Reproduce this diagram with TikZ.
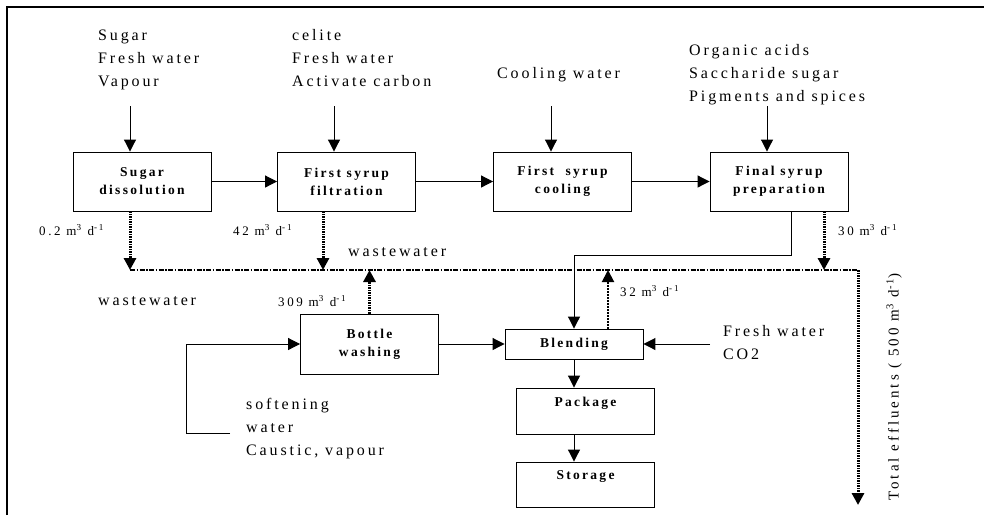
\documentclass[tikz,border=0pt]{standalone}
\usepackage{fontspec}
\setmainfont{Liberation Serif}
\usetikzlibrary{positioning, arrows.meta}

\begin{document}
\begin{tikzpicture}[x=1pt, y=-1pt,
    proc/.style={draw, line width=0.9pt, minimum width=138pt, minimum height=59pt, inner sep=0pt, align=center,
                 font=\fontsize{13.5}{18}\selectfont\bfseries\addfontfeature{LetterSpace=17}},
    feed/.style={anchor=base west, inner sep=0pt, align=left,
                 font=\fontsize{16}{23}\selectfont\addfontfeature{LetterSpace=18}},
    flow/.style={anchor=base west, inner sep=0pt,
                 font=\fontsize{13}{15}\selectfont\addfontfeature{LetterSpace=20}},
    pipe/.style={line width=1pt, -{Triangle[length=12pt, width=12pt]}},
    waste/.style={line width=3pt, dash pattern=on 1.5pt off 1pt, -{Triangle[length=12pt, width=12pt]}},
    drain/.style={line width=2pt, dash pattern=on 1.5pt off 1.5pt, -{Triangle[length=12pt, width=12pt]}},
    sewer/.style={line width=2pt, dash pattern=on 5pt off 1.5pt on 1.5pt off 1.5pt}]
    \useasboundingbox (0,0) rectangle (984,515);
    % frame
    \draw[line width=2pt] (6.5,515) -- (6.5,6.5) -- (984,6.5);

    % process boxes
    \draw (142,181.5) node[proc] (sd) {Sugar\\dissolution}
          (346.5,181.5) node[proc] (sf) {First syrup\\filtration}
          (562.5,181.5) node[proc] (sc) {First \ syrup\\cooling}
          (779,181.5) node[proc] (fp) {Final syrup\\preparation}
          (369.5,344) node[proc, minimum height=60pt] (bw) {Bottle\\washing}
          (574,344) node[proc, minimum height=30pt] (bl) {Blending}
          (585.5,411) node[proc, minimum height=46pt] (pk) {Package\\\mbox{}}
          (585.5,484.5) node[proc, minimum height=45pt] (st) {Storage\\\mbox{}};

    % feeds (anchored on the last line)
    \draw (98,86) node[feed] (fsugar) {Sugar\\Fresh water\\Vapour}
          (292,86) node[feed] (fcelite) {celite\\Fresh water\\Activate carbon}
          (497,78) node[feed] (fcool) {Cooling water}
          (689,101) node[feed] (facid) {Organic acids\\Saccharide sugar\\Pigments and spices}
          (246,455) node[feed] (fsoft) {softening\\water\\Caustic, vapour}
          (723,359) node[feed] (fco) {Fresh water\\CO2}
          (348,256) node[feed] (ww1) {wastewater}
          (98,305) node[feed] (ww2) {wastewater};

    % flow rates
    \draw (39,235) node[flow] (q1) {0.2 m\textsuperscript{3} d\textsuperscript{-1}}
          (233,235) node[flow] (q2) {42 m\textsuperscript{3} d\textsuperscript{-1}}
          (838,235) node[flow] (q3) {30 m\textsuperscript{3} d\textsuperscript{-1}}
          (278,306) node[flow] (q4) {309 m\textsuperscript{3} d\textsuperscript{-1}}
          (620,296) node[flow] (q5) {32 m\textsuperscript{3} d\textsuperscript{-1}};
    \draw (894,387) node[rotate=90, inner sep=0pt, font=\fontsize{15}{17}\selectfont\addfontfeature{LetterSpace=20}] (tot)
          {Total effluents ( 500 m\textsuperscript{3} d\textsuperscript{-1})};

    % free ends
    \coordinate (i1) at (130,106);
    \coordinate (i2) at (334,106);
    \coordinate (i3) at (551,106);
    \coordinate (i4) at (767,106);
    \coordinate (w0) at (130,270);
    \coordinate (wf) at (323,270);
    \coordinate (wb) at (369.5,270);
    \coordinate (wl) at (608,270);
    \coordinate (wp) at (824,270);
    \coordinate (w1) at (858,270);
    \coordinate (w2) at (858,505);
    \coordinate (j1) at (791,255);
    \coordinate (s1) at (230,433);
    \coordinate (s2) at (186,433);
    \coordinate (f1) at (710,344);

    % main line
    \draw[pipe] (i1) -- (i1 |- sd.north);
    \draw[pipe] (i2) -- (i2 |- sf.north);
    \draw[pipe] (i3) -- (i3 |- sc.north);
    \draw[pipe] (i4) -- (i4 |- fp.north);
    \draw[pipe] (sd.east) -- (sf.west);
    \draw[pipe] (sf.east) -- (sc.west);
    \draw[pipe] (sc.east) -- (fp.west);
    \draw[pipe] (j1 |- fp.south) -- (j1) -| (bl.north);
    \draw[pipe] (s1) -- (s2) |- (bw.west);
    \draw[pipe] (bw.east) -- (bl.west);
    \draw[pipe] (f1) -- (bl.east);
    \draw[pipe] (bl.south) -- (bl.south |- pk.north);
    \draw[pipe] (bl.south |- pk.south) -- (bl.south |- st.north);

    % wastewater
    \draw[sewer] (w0) -- (w1);
    \draw[waste] (w1) -- (w2);
    \draw[waste] (w0 |- sd.south) -- (w0);
    \draw[waste] (wf |- sf.south) -- (wf);
    \draw[waste] (wp |- fp.south) -- (wp);
    \draw[waste] (bw.north) -- (wb);
    \draw[drain] (wl |- bl.north) -- (wl);
\end{tikzpicture}
\end{document}
